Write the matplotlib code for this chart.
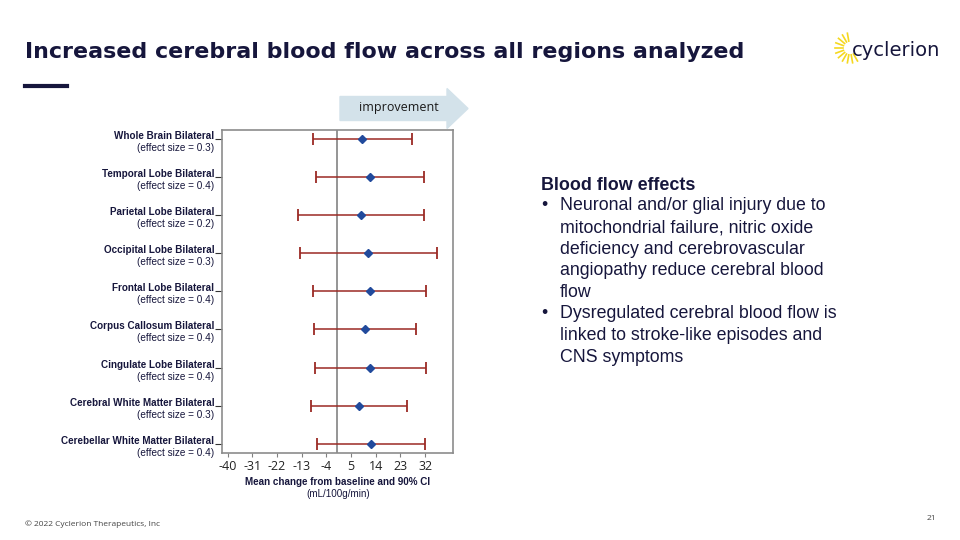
import matplotlib.pyplot as plt
from matplotlib.patches import FancyArrow
import numpy as np

regions = ["Whole Brain Bilateral", "Temporal Lobe Bilateral", "Parietal Lobe Bilateral",
           "Occipital Lobe Bilateral", "Frontal Lobe Bilateral", "Corpus Callosum Bilateral",
           "Cingulate Lobe Bilateral", "Cerebral White Matter Bilateral",
           "Cerebellar White Matter Bilateral"]
effect_sizes = ["0.3", "0.4", "0.2", "0.3", "0.4", "0.4", "0.4", "0.3", "0.4"]
mean_change = [9.0, 11.8, 8.6, 11.2, 11.8, 10.2, 12.0, 7.8, 12.1]
ci_low = [-8.9, -7.7, -14.3, -13.8, -8.9, -8.5, -8.1, -9.6, -7.6]
ci_high = [27.4, 31.7, 31.7, 36.3, 32.5, 28.8, 32.5, 25.4, 31.9]
xticks = [-40, -31, -22, -13, -4, 5, 14, 23, 32]

bullets = [
    ["Neuronal and/or glial injury due to", "mitochondrial failure, nitric oxide",
     "deficiency and cerebrovascular", "angiopathy reduce cerebral blood", "flow"],
    ["Dysregulated cerebral blood flow is", "linked to stroke-like episodes and",
     "CNS symptoms"],
]

navy = "#16163c"
plt.rcParams["font.family"] = ["Liberation Sans", "DejaVu Sans"]

fig = plt.figure(figsize=(9.6, 5.4), dpi=100)
W, H = 960, 540


def fx(px):
    return px / W


def fy(py):
    return 1 - py / H


# title + underline
fig.text(fx(25), fy(52), "Increased cerebral blood flow across all regions analyzed",
         fontsize=15.9, fontweight="bold", color=navy, va="center", family="DejaVu Sans")
fig.add_artist(plt.Line2D([fx(25), fx(67)], [fy(86), fy(86)], color=navy, lw=3))

# logo
fig.text(fx(852), fy(50), "cyclerion", fontsize=14, color=navy, va="center",
         family="DejaVu Sans")
cx, cy = 850, 48
for ang in np.linspace(100, 300, 11):
    a = np.deg2rad(ang)
    fig.add_artist(plt.Line2D([fx(cx + 7 * np.cos(a)), fx(cx + 15 * np.cos(a))],
                              [fy(cy - 7 * np.sin(a)), fy(cy - 15 * np.sin(a))],
                              color="#f5d820", lw=1.2))

# forest plot
ax = fig.add_axes([fx(222.3), fy(452.7), fx(453.3) - fx(222.3), fy(130) - fy(452.7)])
y = np.arange(len(regions))
ax.axvline(0, color="#8c8c8c", lw=1.3, zorder=1)
err = [np.array(mean_change) - np.array(ci_low), np.array(ci_high) - np.array(mean_change)]
ax.errorbar(mean_change, y, xerr=err, fmt="none", ecolor="#9b2a24", elinewidth=1.1,
            capsize=4.5, capthick=1.3, zorder=2)
ax.plot(mean_change, y, "D", color="#214a9c", ms=4, zorder=3)
ax.set_xlim(-42, 42.3)
ax.set_ylim(len(regions) - 0.77, -0.23)
ax.set_xticks(xticks)
ax.set_xticklabels([str(t) for t in xticks], fontsize=9, color="#222222",
                   family="Open Sans")
ax.tick_params(axis="x", length=3, color="#808080", pad=2)
ax.set_yticks(y)
ax.set_yticklabels([])
ax.tick_params(axis="y", length=5, color="#333333", width=0.8)
for s in ax.spines.values():
    s.set_color("#8c8c8c")
    s.set_linewidth(1.2)

for i, (r, e) in enumerate(zip(regions, effect_sizes)):
    ax.annotate(r, xy=(0, i), xycoords=("axes fraction", "data"), xytext=(-8, 3),
                textcoords="offset pixels", ha="right", va="center", fontsize=7.1,
                fontweight="bold", color=navy)
    ax.annotate("(effect size = %s)" % e, xy=(0, i), xycoords=("axes fraction", "data"),
                xytext=(-8, -9), textcoords="offset pixels", ha="right", va="center",
                fontsize=7.2, color=navy)

fig.text(fx(338), fy(482), "Mean change from baseline and 90% CI", fontsize=7.1,
         fontweight="bold", color=navy, ha="center", va="center")
fig.text(fx(338), fy(494), "(mL/100g/min)", fontsize=7.1, color=navy, ha="center",
         va="center")

# improvement arrow
fig.add_artist(FancyArrow(fx(340), fy(108.5), fx(468) - fx(340), 0,
                          width=fy(97) - fy(121), head_width=fy(88) - fy(128),
                          head_length=fx(468) - fx(447), length_includes_head=True,
                          color="#d3e2ea", transform=fig.transFigure))
fig.text(fx(399), fy(108), "improvement", fontsize=9, color="#1a1a1a", ha="center",
         va="center", family="Open Sans")

# right text block
fig.text(fx(541), fy(185), "Blood flow effects", fontsize=12.9, fontweight="bold",
         color=navy, va="center")
line = 0
for b in bullets:
    for j, t in enumerate(b):
        yy = 206 + line * 21.6
        if j == 0:
            fig.text(fx(541), fy(yy), "\u2022", fontsize=12.8, color=navy, va="center")
        fig.text(fx(560), fy(yy), t, fontsize=12.8, color=navy, va="center")
        line += 1

# footer
fig.text(fx(25), fy(524), "\u00a9 2022 Cyclerion Therapeutics, Inc", fontsize=6,
         color="#444444", va="center", family="Open Sans")
fig.text(fx(936), fy(518), "21", fontsize=6, color="#444444", ha="right", va="center",
         family="Open Sans")

fig.savefig("out.png", dpi=100)
